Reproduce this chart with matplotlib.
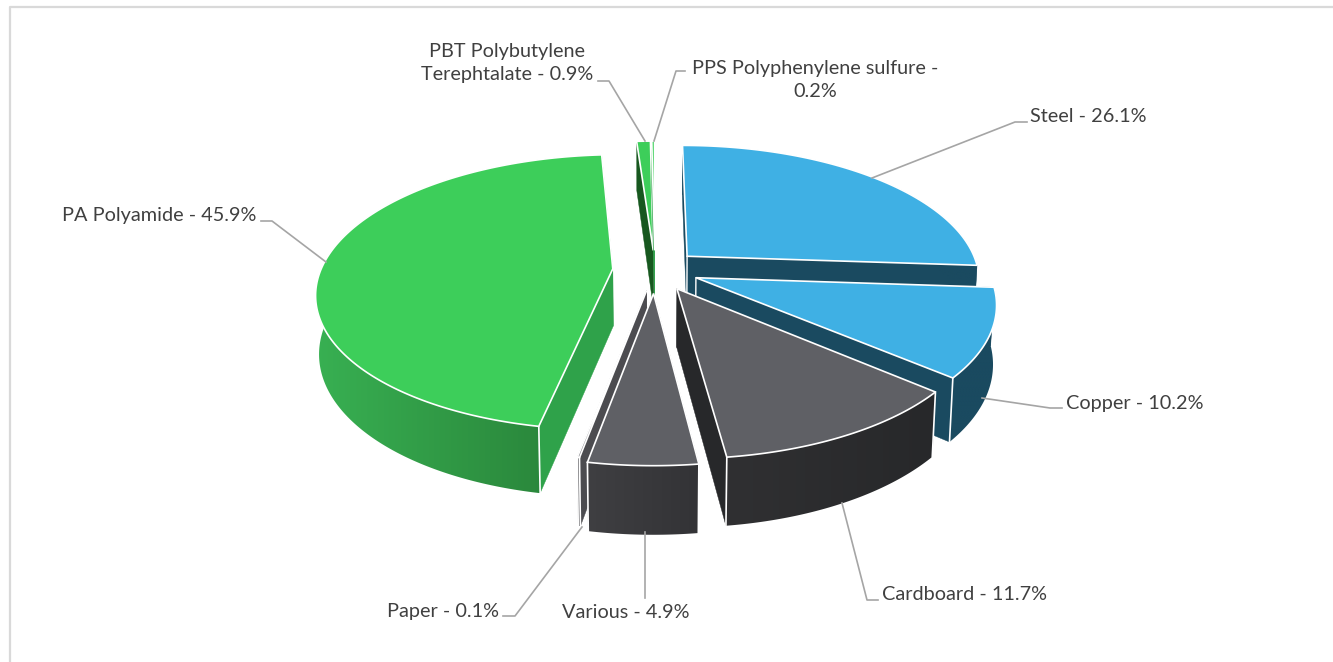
import numpy as np
import matplotlib
matplotlib.use("Agg")
import matplotlib.pyplot as plt
from matplotlib.colors import to_rgb
from matplotlib.patches import Polygon

# data, clockwise from 12 o'clock
names = ["Steel", "Copper", "Cardboard", "Various", "Paper", "PA Polyamide",
         "PBT Polybutylene\nTerephtalate", "PPS Polyphenylene sulfure -\n"]
values = [26.1, 10.2, 11.7, 4.9, 0.1, 45.9, 0.9, 0.2]

# styling per slice
explode = [0.153, 0.15, 0.155, 0.17, 0.15, 0.145, 0.15, 0.15]
top_colors = ["#3fb0e4", "#3fb0e4", "#5f6065", "#5f6065", "#5f6065", "#3dce5a", "#3dce5a", "#5ad873"]
side_colors = ["#1a4a60", "#1a4a60", "#27282a", "#27282a", "#4c4c50", "#2fa24a", "#17581f", "#2fa24a"]
wall_left = ["#1a4a60", "#1a4a60", "#303032", "#3f3f42", "#4c4c50", "#38b052", "#17581f", "#2fa24a"]
wall_right = ["#1a4a60", "#1a4a60", "#27282a", "#333336", "#4c4c50", "#277d36", "#17581f", "#2fa24a"]
draw_order = [6, 7, 0, 1, 2, 5, 4, 3]

# label text anchors and leader lines, in pixels
label_pos = [(1030, 117, "left"), (1066, 404, "left"), (882, 595, "left"), (562, 613, "left"),
             (387, 612, "left"), (62, 216, "left"), (507, 63, "center"), (815, 80, "center")]
leaders = [[(1027, 122), (1015, 122), (872, 178)],
           [(1062, 408), (1050, 408), (982, 398)],
           [(878, 600), (867, 600), (842, 503)],
           [(645, 598), (645, 532)],
           [(503, 616), (515, 616), (582, 527)],
           [(261, 221), (272, 221), (326, 262)],
           [(598, 81), (609, 81), (645, 141)],
           [(685, 71), (676, 71), (654, 141)]]

# projection of the pie plane
cx, cy = 655, 270
a, b = 292, 134
k = 0.17
depth = 58


def project(px, py, low=False):
    w = 1 + k * py
    y = -b * py
    if low:
        w = w + 0.01
        y = y + depth
    return cx + a * px / w, cy + y / w


fig = plt.figure(figsize=(13.33, 6.62), dpi=100)
ax = fig.add_axes([0, 0, 1, 1])
ax.axis("off")

ax.plot([10, 10, 1333], [662, 7, 7], color="#d9d9d9", lw=1.6, zorder=1)

edges = np.radians(np.concatenate([[0], np.cumsum(values)]) * 3.6)
z = 2
for i in draw_order:
    t0, t1 = edges[i], edges[i + 1]
    mid = (t0 + t1) / 2
    ox, oy = explode[i] * np.sin(mid), explode[i] * np.cos(mid)
    th = np.linspace(t0, t1, max(3, int(np.degrees(t1 - t0) * 2)))
    px, py = ox + np.sin(th), oy + np.cos(th)
    tx, ty = project(px, py)
    bx, by = project(px, py, low=True)
    ax0, ay0 = project(ox, oy)
    bx0, by0 = project(ox, oy, low=True)

    # flat walls along both radial cuts
    for j in (0, -1):
        ax.add_patch(Polygon([(ax0, ay0), (tx[j], ty[j]), (bx[j], by[j]), (bx0, by0)],
                             fc=side_colors[i], ec=side_colors[i], lw=0.3, zorder=z))
        z += 1

    # outer wall, shaded left to right
    wall = Polygon(list(zip(tx, ty)) + list(zip(bx[::-1], by[::-1])), fc="none", ec="none",
                   transform=ax.transData, zorder=z)
    ax.add_patch(wall)
    c1, c2 = np.array(to_rgb(wall_left[i])), np.array(to_rgb(wall_right[i]))
    grad = np.linspace(c1, c2, 256)[None, :, :]
    im = ax.imshow(grad, extent=[min(tx.min(), bx.min()), max(tx.max(), bx.max()), by.max(), ty.min()],
                   aspect="auto", interpolation="bilinear", zorder=z)
    im.set_clip_path(wall)
    z += 1

    # white corners only where the wall faces the viewer
    for j in (0, -1):
        if ty[j] > cy + 60:
            ax.plot([tx[j], bx[j]], [ty[j], by[j]], color="white", lw=1.2, zorder=z)
    if i < 2:
        ax.plot([ax0, bx0], [ay0, by0], color="white", lw=1.0, zorder=z)
    z += 1

    # top face
    top = [(ax0, ay0)] + list(zip(tx, ty))
    ax.add_patch(Polygon(top, fc=top_colors[i], ec="white", lw=1.2, joinstyle="miter", zorder=z))
    z += 1

for i, name in enumerate(names):
    sep = "" if name.endswith("\n") else " - "
    label = f"{name}{sep}{values[i]}%"
    x, y, ha = label_pos[i]
    ax.text(x, y, label, ha=ha, va="center", fontsize=14.3, family="Lato", color="#404040",
            linespacing=1.4, zorder=200)
    lx, ly = zip(*leaders[i])
    ax.plot(lx, ly, color="#a5a5a5", lw=1.2, zorder=100)

ax.set_xlim(0, 1333)
ax.set_ylim(662, 0)

fig.savefig("out.png", dpi=100, facecolor="white")
